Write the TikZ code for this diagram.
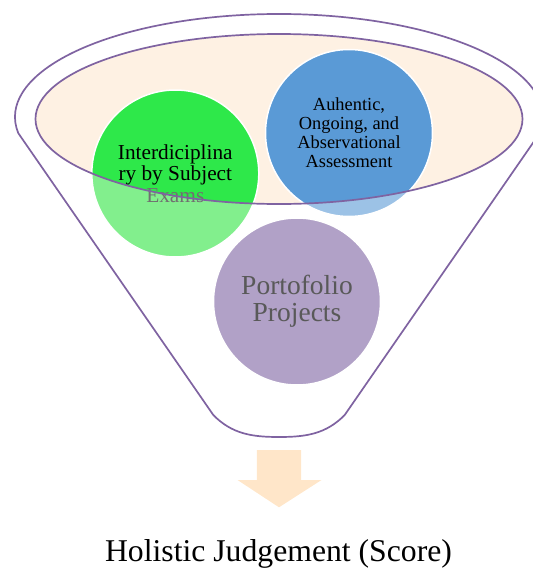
\documentclass[tikz,border=0pt]{standalone}
\usepackage{fontspec}
\setmainfont{Liberation Serif}
\definecolor{funline}{HTML}{7F63A1}
\definecolor{peach}{HTML}{FEF1E3}
\definecolor{greendark}{HTML}{2EE84A}
\definecolor{greenlight}{HTML}{82EF8D}
\definecolor{bluedark}{HTML}{5A9AD6}
\definecolor{bluelight}{HTML}{9CC2E6}
\definecolor{purplecirc}{HTML}{B1A1C7}
\definecolor{graytext}{HTML}{595959}
\definecolor{fadetext}{HTML}{707070}
\definecolor{arrowpeach}{HTML}{FFE6C9}
\begin{document}
\begin{tikzpicture}[x=1pt,y=-1pt,
  outline/.style={draw=funline, line width=1.7pt},
  bubble/.style={circle, draw=white, line width=1.5pt, inner sep=0pt, minimum size=167pt, align=center},
  rimfill/.style={path picture={\fill[#1] (ec) ellipse[x radius=243.5pt, y radius=85pt];}}
]
\useasboundingbox (0,0) rectangle (533,568);
\clip (0,0) rectangle (533,568);
\coordinate (ec) at (279,119);
% inner rim ellipse fill
\fill[peach] (ec) ellipse[x radius=243.5pt, y radius=85pt];
% circles
\node[bubble, fill=greenlight, rimfill=greendark,
      font=\fontsize{21.3}{21.35}\selectfont] (gc) at (175.3,173.5)
  {Interdiciplina\\ry by Subject\\\textcolor{fadetext}{Exams}};
\node[bubble, fill=bluelight, rimfill=bluedark,
      font=\fontsize{18.4}{19.1}\selectfont] (bc) at (349,133)
  {Auhentic,\\Ongoing, and\\Abservational\\Assessment};
\node[bubble, fill=purplecirc, text=graytext,
      font=\fontsize{27.5}{27.3}\selectfont] (pc) at (297,301.5)
  {Portofolio\\Projects};
% rim ellipse outline
\draw[outline] (ec) ellipse[x radius=243.5pt, y radius=85pt];
% funnel outline
\coordinate (tl) at (18.25,133.1);
\coordinate (bl) at (213.3,415);
\coordinate (br) at (344.7,415);
\coordinate (bm) at (279,437);
\draw[outline, line join=round] (tl) arc[start angle=189, end angle=-9, x radius=264pt, y radius=103pt]
  -- (br) .. controls (326,434) and (306,437) .. (bm)
  .. controls (252,437) and (232,434) .. (bl) -- cycle;
% block arrow
\fill[arrowpeach] (256.8,450) -- (301.2,450) -- (301.2,480) -- (321.5,480)
  -- (279,507.3) -- (237.5,480) -- (256.8,480) -- cycle;
% result
\node[anchor=base, inner sep=0pt, font=\fontsize{31.7}{36}\selectfont] (ht) at (278.5,561)
  {Holistic Judgement (Score)};
\end{tikzpicture}
\end{document}
